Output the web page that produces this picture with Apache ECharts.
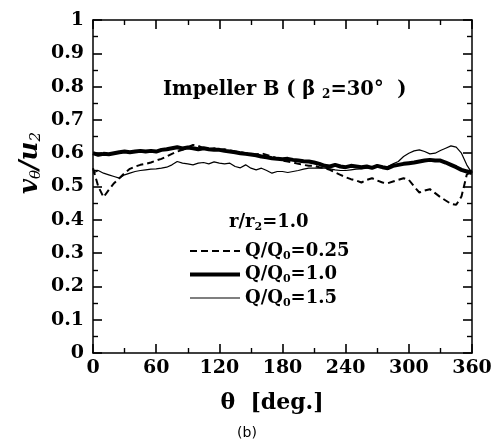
<!DOCTYPE html>
<html>
<head>
<meta charset="utf-8">
<script src="https://cdn.jsdelivr.net/npm/echarts@6/dist/echarts.min.js"></script>
<style>
  html, body { margin: 0; padding: 0; background: #fff; }
  #main { width: 499px; height: 442px; }
</style>
</head>
<body>
<div id="main"></div>
<script>
// theta (deg), every 5 degrees
const theta = [];
for (let t = 0; t <= 360; t += 5) theta.push(t);

// Q/Q0 = 0.25 (dashed)
const q025 = [0.555, 0.500, 0.468, 0.490, 0.510, 0.525, 0.540, 0.553, 0.560, 0.565,
  0.568, 0.572, 0.578, 0.583, 0.590, 0.598, 0.605, 0.610, 0.618, 0.625,
  0.622, 0.615, 0.612, 0.615, 0.610, 0.612, 0.608, 0.605, 0.603, 0.600,
  0.598, 0.596, 0.600, 0.595, 0.590, 0.585, 0.578, 0.575, 0.572, 0.568,
  0.565, 0.562, 0.562, 0.558, 0.555, 0.550, 0.542, 0.535, 0.528, 0.522,
  0.518, 0.512, 0.520, 0.525, 0.518, 0.512, 0.510, 0.515, 0.520, 0.525,
  0.520, 0.500, 0.482, 0.488, 0.492, 0.480, 0.468, 0.458, 0.448, 0.445,
  0.470, 0.535, 0.548];
// Q/Q0 = 1.0 (thick)
const q100 = [0.600, 0.595, 0.598, 0.597, 0.600, 0.603, 0.605, 0.603, 0.605, 0.607,
  0.605, 0.607, 0.605, 0.610, 0.612, 0.615, 0.618, 0.614, 0.617, 0.615,
  0.612, 0.615, 0.612, 0.610, 0.610, 0.607, 0.605, 0.603, 0.600, 0.598,
  0.596, 0.594, 0.590, 0.588, 0.585, 0.583, 0.582, 0.583, 0.580, 0.578,
  0.576, 0.575, 0.572, 0.568, 0.562, 0.560, 0.565, 0.560, 0.558, 0.562,
  0.560, 0.558, 0.560, 0.556, 0.562, 0.558, 0.555, 0.562, 0.565, 0.568,
  0.570, 0.572, 0.575, 0.578, 0.580, 0.578, 0.578, 0.572, 0.565, 0.558,
  0.550, 0.545, 0.540];
// Q/Q0 = 1.5 (thin)
const q150 = [0.540, 0.548, 0.540, 0.535, 0.530, 0.525, 0.535, 0.540, 0.545, 0.548,
  0.550, 0.552, 0.553, 0.555, 0.558, 0.565, 0.575, 0.570, 0.568, 0.565,
  0.570, 0.572, 0.568, 0.574, 0.570, 0.568, 0.570, 0.560, 0.556, 0.565,
  0.555, 0.550, 0.555, 0.548, 0.540, 0.545, 0.545, 0.542, 0.545, 0.548,
  0.552, 0.555, 0.555, 0.556, 0.555, 0.553, 0.550, 0.548, 0.548, 0.550,
  0.552, 0.553, 0.555, 0.556, 0.558, 0.556, 0.560, 0.568, 0.575, 0.590,
  0.600, 0.607, 0.610, 0.605, 0.598, 0.600, 0.608, 0.615, 0.622, 0.618,
  0.600, 0.565, 0.540];

const seriesNames = ['Q/Q0=0.25', 'Q/Q0=1.0', 'Q/Q0=1.5'];
const legendText = {
  'Q/Q0=0.25': '{a|Q/Q}{s|0}{a|=0.25}',
  'Q/Q0=1.0': '{a|Q/Q}{s|0}{a|=1.0}',
  'Q/Q0=1.5': '{a|Q/Q}{s|0}{a|=1.5}'
};

const serif = 'DejaVu Serif';
const pair = (ys) => theta.map((t, i) => [t, ys[i]]);

const chart = echarts.init(document.getElementById('main'));

// shared axis look (ticks inside, mirrored on top/right)
const tickStyle = {
  axisLine: { show: true, onZero: false, lineStyle: { color: '#000', width: 1.5 } },
  axisTick: { show: true, inside: true, length: 9, lineStyle: { color: '#000', width: 1.6 } },
  minorTick: { show: true, splitNumber: 2, length: 5, lineStyle: { color: '#000', width: 1.4 } },
  splitLine: { show: false },
  minorSplitLine: { show: false }
};

const subRich = (size, pad) => ({
  a: { fontFamily: serif, fontWeight: 'bold', fontSize: size, color: '#000' },
  s: { fontFamily: serif, fontWeight: 'bold', fontSize: Math.round(size * 0.6), color: '#000', padding: [pad, 0, 0, 0] }
});

const option = {
  animation: false,
  backgroundColor: '#fff',
  grid: { left: 93, right: 27, top: 20, bottom: 89 },
  title: {
    text: '{a|Impeller B ( β }{s|2}{a|=30°  )}',
    left: 158,
    top: 73,
    textStyle: { rich: subRich(19.5, 11) }
  },
  legend: {
    orient: 'vertical',
    left: 183,
    top: 237,
    itemWidth: 50,
    itemHeight: 14,
    itemGap: 4,
    itemStyle: { opacity: 0 },
    data: [
      { name: seriesNames[0], lineStyle: { width: 2, type: [7, 4] } },
      { name: seriesNames[1], lineStyle: { width: 4 } },
      { name: seriesNames[2], lineStyle: { width: 1.2 } }
    ],
    formatter: (name) => legendText[name],
    textStyle: { rich: subRich(18, 10) }
  },
  xAxis: [
    Object.assign({
      type: 'value', min: 0, max: 360, interval: 60, position: 'bottom',
      axisLabel: { color: '#000', fontFamily: serif, fontWeight: 'bold', fontSize: 19, margin: 6 }
    }, tickStyle),
    Object.assign({
      type: 'value', min: 0, max: 360, interval: 60, position: 'top',
      axisLabel: { show: false }
    }, tickStyle)
  ],
  yAxis: [
    Object.assign({
      type: 'value', min: 0, max: 1, interval: 0.1, position: 'left',
      axisLabel: { color: '#000', fontFamily: serif, fontWeight: 'bold', fontSize: 19, margin: 9 }
    }, tickStyle),
    Object.assign({
      type: 'value', min: 0, max: 1, interval: 0.1, position: 'right',
      axisLabel: { show: false }
    }, tickStyle)
  ],
  series: [
    {
      name: seriesNames[0], type: 'line', data: pair(q025), showSymbol: false, symbol: 'none',
      lineStyle: { color: '#000', width: 2, type: [7, 4] }, itemStyle: { color: '#000' }
    },
    {
      name: seriesNames[1], type: 'line', data: pair(q100), showSymbol: false, symbol: 'none',
      lineStyle: { color: '#000', width: 4 }, itemStyle: { color: '#000' }
    },
    {
      name: seriesNames[2], type: 'line', data: pair(q150), showSymbol: false, symbol: 'none',
      lineStyle: { color: '#000', width: 1.2 }, itemStyle: { color: '#000' }
    }
  ],
  graphic: [
    {
      // legend header
      type: 'text', left: 229, top: 213,
      style: {
        text: '{a|r/r}{s|2}{a|=1.0}',
        rich: {
          a: { fontFamily: serif, fontWeight: 'bold', fontSize: 18, fill: '#000' },
          s: { fontFamily: serif, fontWeight: 'bold', fontSize: 11, fill: '#000', padding: [10, 0, 0, 0] }
        }
      }
    },
    {
      // y axis name
      type: 'text', x: 30, y: 163, rotation: Math.PI / 2,
      style: {
        text: '{a|v}{s|θ}{a|/u}{s|2}',
        align: 'center', verticalAlign: 'middle',
        rich: {
          a: { fontFamily: serif, fontStyle: 'italic', fontWeight: 'bold', fontSize: 26, fill: '#000' },
          s: { fontFamily: serif, fontStyle: 'italic', fontSize: 15, fill: '#000', padding: [13, 0, 0, 0] }
        }
      }
    },
    {
      // x axis name
      type: 'text', x: 272, y: 403,
      style: {
        text: 'θ  [deg.]', align: 'center', verticalAlign: 'middle',
        fontFamily: serif, fontWeight: 'bold', fontSize: 22, fill: '#000'
      }
    },
    {
      type: 'text', x: 247, y: 433,
      style: {
        text: '(b)', align: 'center', verticalAlign: 'middle',
        fontFamily: 'DejaVu Sans', fontSize: 14, fill: '#000'
      }
    }
  ]
};

option && chart.setOption(option);
</script>
</body>
</html>
